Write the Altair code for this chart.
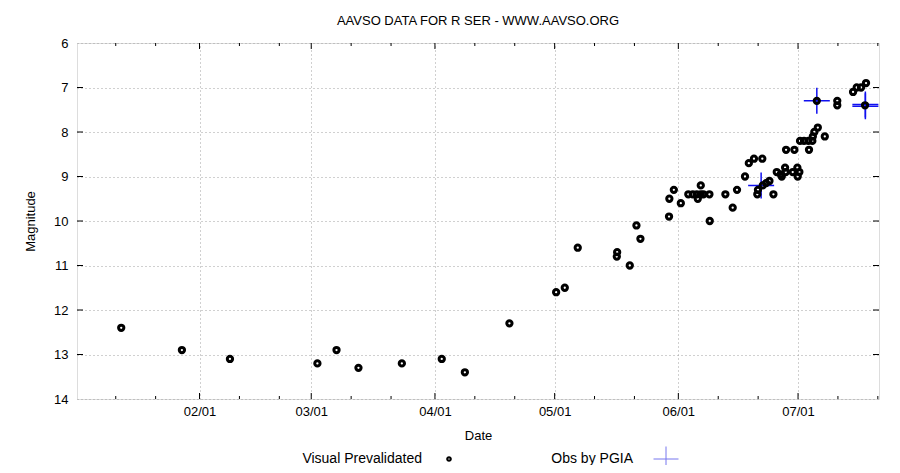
import altair as alt
import pandas as pd

YEAR = "2023"

# ---- data ----
vis_dates = [
    "01-12T09", "01-27T14", "02-08T15", "03-02T13", "03-07T08", "03-12T20",
    "03-23T17", "04-02T17", "04-08T12", "04-19T16",
    "05-01T09", "05-03T13", "05-06T19", "05-16T16", "05-16T14", "05-19T20",
    "05-21T12", "05-22T12", "05-29T16", "05-29T18", "05-30T21", "06-01T15",
    "06-03T12", "06-04T15", "06-05T15", "06-05T21", "06-06T15", "06-06T15",
    "06-07T07", "06-08T19", "06-08T21", "06-12T19", "06-14T15", "06-15T17",
    "06-17T17", "06-18T16", "06-19T23", "06-22T01", "06-20T19", "06-20T23",
    "06-22T04", "06-23T00", "06-23T20", "06-24T20", "06-25T16", "06-26T16",
    "06-26T22", "06-27T18", "06-27T22", "06-28T00", "06-30T02", "06-29T16",
    "06-30T20", "07-01T08", "06-30T22", "07-01T12", "07-02T12", "07-03T14",
    "07-04T14", "07-03T18", "07-04T17", "07-05T02", "07-05T23", "07-07T17",
    "07-05T17", "07-10T20", "07-10T20", "07-14T19", "07-15T17", "07-16T19",
    "07-18T01", "07-17T19",
]
vis_mags = [
    12.4, 12.9, 13.1, 13.2, 12.9, 13.3,
    13.2, 13.1, 13.4, 12.3,
    11.6, 11.5, 10.6, 10.7, 10.8, 11.0,
    10.1, 10.4, 9.9, 9.5, 9.3, 9.6,
    9.4, 9.4, 9.4, 9.5, 9.4, 9.2,
    9.4, 9.4, 10.0, 9.4, 9.7, 9.3,
    9.0, 8.7, 8.6, 8.6, 9.4, 9.3,
    9.2, 9.15, 9.1, 9.4, 8.9, 8.95,
    9.0, 8.8, 8.9, 8.4, 8.4, 8.9,
    8.8, 8.9, 9.0, 8.2, 8.2, 8.2,
    8.2, 8.4, 8.1, 8.0, 7.9, 8.1,
    7.3, 7.3, 7.4, 7.1, 7.0, 7.0,
    6.9, 7.4,
]
pgia_dates = ["06-21T18", "07-05T17", "07-17T21", "07-17T21"]
pgia_mags = [9.2, 7.3, 7.38, 7.42]

major_tick_dates = ["02-01", "03-01", "04-01", "05-01", "06-01", "07-01"]
minor_tick_dates = ["01-11", "01-21", "02-11", "02-21", "03-11", "03-21",
                    "04-11", "04-21", "05-11", "05-21", "06-11", "06-21",
                    "07-11", "07-21"]
mag_ticks = [6, 7, 8, 9, 10, 11, 12, 13, 14]
inner_mag_ticks = [7, 8, 9, 10, 11, 12, 13]

x_start = "01-01T07"
x_end = "07-21T07"

W, H = 802, 356
FONT = "Liberation Sans"


def iso(s):
    if "T" in s:
        return f"{YEAR}-{s}:00:00Z"
    return f"{YEAR}-{s}T00:00:00Z"


def ms(s):
    return int(pd.Timestamp(iso(s)).value // 10**6)


vis_df = pd.DataFrame({"date": [iso(d) for d in vis_dates], "mag": vis_mags})
pgia_df = pd.DataFrame({"date": [iso(d) for d in pgia_dates], "mag": pgia_mags})
major_df = pd.DataFrame({"date": [iso(d) for d in major_tick_dates]})
minor_df = pd.DataFrame({"date": [iso(d) for d in minor_tick_dates]})
magtick_df = pd.DataFrame({"mag": inner_mag_ticks})

x_scale = alt.Scale(type="utc", domain=[ms(x_start), ms(x_end)])
y_scale = alt.Scale(domain=[6, 14], reverse=True, nice=False, zero=False)

x_axis = alt.Axis(
    values=[ms(d) for d in major_tick_dates],
    format="%m/%d",
    title="Date",
    grid=True, gridColor="#a0a0a0", gridDash=[1, 3], gridWidth=1,
    tickSize=0, domain=False, labelPadding=6,
    labelFontSize=13, titleFontSize=13, titleFontWeight="normal",
    labelColor="black", titleColor="black", labelFont=FONT, titleFont=FONT,
    titleY=30, titleBaseline="top", labelFlush=False,
)
y_axis = alt.Axis(
    values=mag_ticks,
    title="Magnitude",
    grid=True, gridColor="#a0a0a0", gridDash=[1, 3], gridWidth=1,
    tickSize=0, domain=False, labelPadding=9,
    labelFontSize=13, titleFontSize=13, titleFontWeight="normal",
    labelColor="black", titleColor="black", labelFont=FONT, titleFont=FONT,
    titleX=-47, titleY=H / 2, titleAngle=-90, titleBaseline="middle",
    titleAlign="center", labelFlush=False,
)

X = alt.X("date:T", scale=x_scale, axis=x_axis)
Y = alt.Y("mag:Q", scale=y_scale, axis=y_axis)

pgia_shape = "M-1,0L1,0M0,-1L0,1"

pgia_layer = alt.Chart(pgia_df).mark_point(
    shape=pgia_shape, size=676, filled=False, stroke="#1010f0",
    strokeWidth=1.5, opacity=1, clip=True,
).encode(x=X, y=Y)

vis_layer = alt.Chart(vis_df).mark_point(
    shape="circle", size=28, filled=False, stroke="black",
    strokeWidth=3, opacity=1,
).encode(x=X, y=Y)

major_bottom = alt.Chart(major_df).mark_rule(color="black", strokeWidth=1).encode(
    x=X, y=alt.value(H), y2=alt.value(H - 6))
major_top = alt.Chart(major_df).mark_rule(color="black", strokeWidth=1).encode(
    x=X, y=alt.value(0), y2=alt.value(6))
minor_bottom = alt.Chart(minor_df).mark_rule(color="black", strokeWidth=1).encode(
    x=X, y=alt.value(H), y2=alt.value(H - 3))
minor_top = alt.Chart(minor_df).mark_rule(color="black", strokeWidth=1).encode(
    x=X, y=alt.value(0), y2=alt.value(3))
ytick_left = alt.Chart(magtick_df).mark_rule(color="black", strokeWidth=1).encode(
    y=Y, x=alt.value(0), x2=alt.value(6))
ytick_right = alt.Chart(magtick_df).mark_rule(color="black", strokeWidth=1).encode(
    y=Y, x=alt.value(W - 6), x2=alt.value(W))

# key below the plot (gnuplot style: label then sample)
key_vis_text = alt.Chart(pd.DataFrame({"k": [0]})).mark_text(
    align="right", baseline="middle", fontSize=14, font=FONT, color="black"
).encode(x=alt.value(345), y=alt.value(416), text=alt.value("Visual Prevalidated"))
key_vis_sym = alt.Chart(pd.DataFrame({"k": [0]})).mark_point(
    shape="circle", size=12, filled=False, stroke="black", strokeWidth=2.2, opacity=1
).encode(x=alt.value(372), y=alt.value(416))
key_pgia_text = alt.Chart(pd.DataFrame({"k": [0]})).mark_text(
    align="right", baseline="middle", fontSize=14, font=FONT, color="black"
).encode(x=alt.value(556), y=alt.value(416), text=alt.value("Obs by PGIA"))
key_pgia_sym = alt.Chart(pd.DataFrame({"k": [0]})).mark_point(
    shape=pgia_shape, size=625, filled=False, stroke="#7777ee", strokeWidth=1,
    opacity=1,
).encode(x=alt.value(589), y=alt.value(416))

chart = alt.layer(
    major_bottom, major_top, minor_bottom, minor_top, ytick_left, ytick_right,
    pgia_layer, vis_layer,
    key_vis_text, key_vis_sym, key_pgia_text, key_pgia_sym,
).properties(
    width=W, height=H,
    title=alt.TitleParams(
        "AAVSO DATA FOR R SER - WWW.AAVSO.ORG", fontSize=13,
        fontWeight="normal", font=FONT, color="black", anchor="middle",
        offset=9,
    ),
    autosize=alt.AutoSizeParams(type="none"),
    padding={"left": 69, "top": 35, "right": 13, "bottom": 66},
).configure_view(
    stroke="black", strokeWidth=1.2
).configure(background="white")

chart.save("out.html", embed_options={"renderer": "svg", "actions": False})
